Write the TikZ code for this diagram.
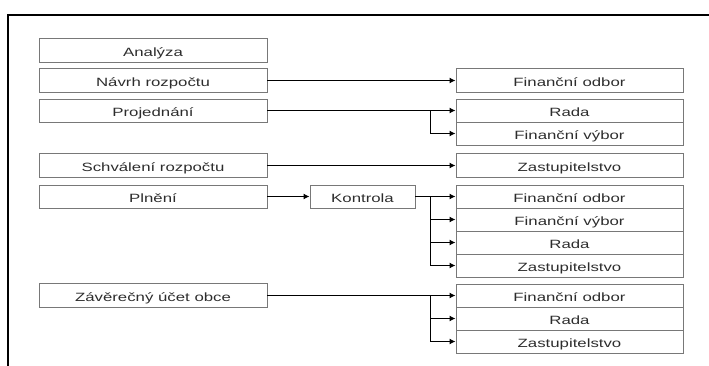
\documentclass[tikz,border=0pt]{standalone}
\usepackage{fontspec}
\usepackage{tikz}
\usetikzlibrary{arrows.meta}
\newfontfamily\boxfont[FakeStretch=1.4]{Liberation Sans}
\definecolor{boxline}{RGB}{120,120,120}
\definecolor{boxtext}{RGB}{45,45,45}
\begin{document}
\begin{tikzpicture}[x=1pt,y=-1pt]
                \tikzstyle{every node}+=[inner sep=0pt]
                \tikzstyle{stage}=[draw=boxline, line width=0.9pt, rectangle, minimum width=228pt, minimum height=24pt, text height=11pt, text depth=0pt, font=\boxfont\fontsize{12}{13}\selectfont, text=boxtext]
                \tikzstyle{organ}=[stage, minimum width=227pt, minimum height=23pt]
                \tikzstyle{arr}=[black, line width=1.6pt, -{Latex[length=6pt,width=6pt]}]
                \useasboundingbox (0,0) rectangle (709,365);
                \draw [black, line width=2pt] (8,366) -- (8,15) -- (710,15);
                \coordinate (bx) at (430.5,0);
                \node [stage] (analyza) at (153,50.5) {Analýza};
                \node [stage] (navrh) at (153,80.5) {Návrh rozpočtu};
                \node [stage, minimum height=23pt] (projednani) at (153,110.5) {Projednání};
                \node [stage] (schvaleni) at (153,165.5) {Schválení rozpočtu};
                \node [stage, minimum height=23pt] (plneni) at (153,196.5) {Plnění};
                \node [stage] (zaverecny) at (153,295.5) {Závěrečný účet obce};
                \node [stage, minimum width=105pt, minimum height=23pt] (kontrola) at (362.5,196.5) {Kontrola};
                \node [organ, minimum height=24pt] (odbor1) at (569.5,80.5) {Finanční odbor};
                \node [organ] (rada1) at (569.5,110.5) {Rada};
                \node [organ] (vybor1) at (569.5,133.5) {Finanční výbor};
                \node [organ, minimum height=24pt] (zastup1) at (569.5,165.5) {Zastupitelstvo};
                \node [organ] (odbor2) at (569.5,196.5) {Finanční odbor};
                \node [organ] (vybor2) at (569.5,219.5) {Finanční výbor};
                \node [organ] (rada2) at (569.5,242.5) {Rada};
                \node [organ] (zastup2) at (569.5,265.5) {Zastupitelstvo};
                \node [organ] (odbor3) at (569.5,295.5) {Finanční odbor};
                \node [organ] (rada3) at (569.5,318.5) {Rada};
                \node [organ] (zastup3) at (569.5,341.5) {Zastupitelstvo};
                \draw [arr] (navrh.east) -- (odbor1.west);
                \draw [arr] (projednani.east) -- (rada1.west);
                \draw [arr] (projednani.east -| bx) |- (vybor1.west);
                \draw [arr] (schvaleni.east) -- (zastup1.west);
                \draw [arr] (plneni.east) -- (kontrola.west);
                \draw [arr] (kontrola.east) -- (odbor2.west);
                \draw [arr] (kontrola.east -| bx) |- (vybor2.west);
                \draw [arr] (kontrola.east -| bx) |- (rada2.west);
                \draw [arr] (kontrola.east -| bx) |- (zastup2.west);
                \draw [arr] (zaverecny.east) -- (odbor3.west);
                \draw [arr] (zaverecny.east -| bx) |- (rada3.west);
                \draw [arr] (zaverecny.east -| bx) |- (zastup3.west);
              \end{tikzpicture}
\end{document}
